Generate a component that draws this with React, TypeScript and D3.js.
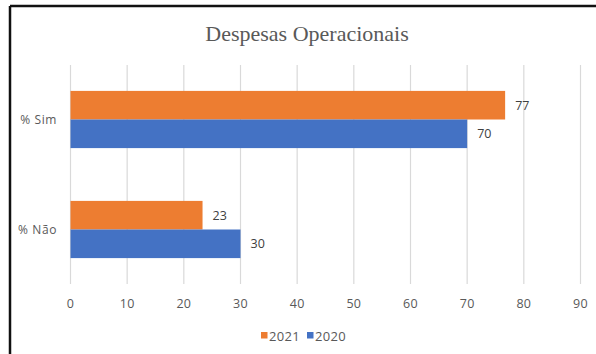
import React from "react";
import * as d3 from "d3";

const categories = ["% Sim", "% Não"];
const seriesNames = ["2021", "2020"];
const values2021 = [76.7, 23.3];
const values2020 = [70, 30];
const xTicks = [0, 10, 20, 30, 40, 50, 60, 70, 80, 90];
const colors = ["#ED7D31", "#4472C4"];

export default function App() {
  const W = 596, H = 354;
  const x = d3.scaleLinear().domain([0, 90]).range([70.5, 580.5]);
  const y0 = d3.scaleBand<string>().domain(categories).range([64.5, 284.5]).paddingInner(0.48).paddingOuter(0.24);
  const y1 = d3.scaleBand<string>().domain(seriesNames).range([0, y0.bandwidth()]);
  const series = [values2021, values2020];
  const font = "'Open Sans', 'Noto Sans', sans-serif";
  return (
    <svg width={W} height={H} style={{ position: "absolute", left: 0, top: 0, background: "#fff" }}>
      <rect x={0} y={0} width={W} height={H} fill="#fff" />
      {/* frame */}
      <line x1={10} y1={6} x2={W + 5} y2={6} stroke="#111" strokeWidth={2.5} />
      <line x1={10} y1={6} x2={10} y2={H + 5} stroke="#111" strokeWidth={2.5} />
      <text x={307} y={33} textAnchor="middle" dominantBaseline="central"
        fontFamily="'Liberation Serif', 'DejaVu Serif', serif" fontSize={22} fill="#595959">
        Despesas Operacionais
      </text>
      {xTicks.map((t) => (
        <line key={"g" + t} x1={x(t)} x2={x(t)} y1={65} y2={284} stroke="#D9D9D9" strokeWidth={1.2} />
      ))}
      {xTicks.map((t) => (
        <text key={"t" + t} x={x(t)} y={303} textAnchor="middle" dominantBaseline="central"
          fontFamily={font} fontSize={12.5} fill="#595959" letterSpacing={0.3}>{t}</text>
      ))}
      {categories.map((c, i) => (
        <g key={c}>
          <text x={57} y={(y0(c) as number) + y0.bandwidth() / 2} textAnchor="end" dominantBaseline="central"
            fontFamily={font} fontSize={12} fill="#595959" letterSpacing={0.6}>{c}</text>
          {seriesNames.map((s, j) => {
            const v = series[j][i];
            const yy = (y0(c) as number) + (y1(s) as number);
            return (
              <g key={s}>
                <rect x={x(0)} y={yy} width={x(v) - x(0)} height={y1.bandwidth()} fill={colors[j]} />
                <text x={x(v) + 10} y={yy + y1.bandwidth() / 2} dominantBaseline="central"
                  fontFamily={font} fontSize={12.5} fill="#404040">{Math.round(v)}</text>
              </g>
            );
          })}
        </g>
      ))}
      {/* legend */}
      <rect x={261} y={332} width={6.5} height={6.5} fill={colors[0]} />
      <text x={269} y={335.5} dominantBaseline="central" fontFamily={font} fontSize={13} letterSpacing={0.3} fill="#595959">{seriesNames[0]}</text>
      <rect x={307} y={332} width={6.5} height={6.5} fill={colors[1]} />
      <text x={315} y={335.5} dominantBaseline="central" fontFamily={font} fontSize={13} letterSpacing={0.3} fill="#595959">{seriesNames[1]}</text>
    </svg>
  );
}
